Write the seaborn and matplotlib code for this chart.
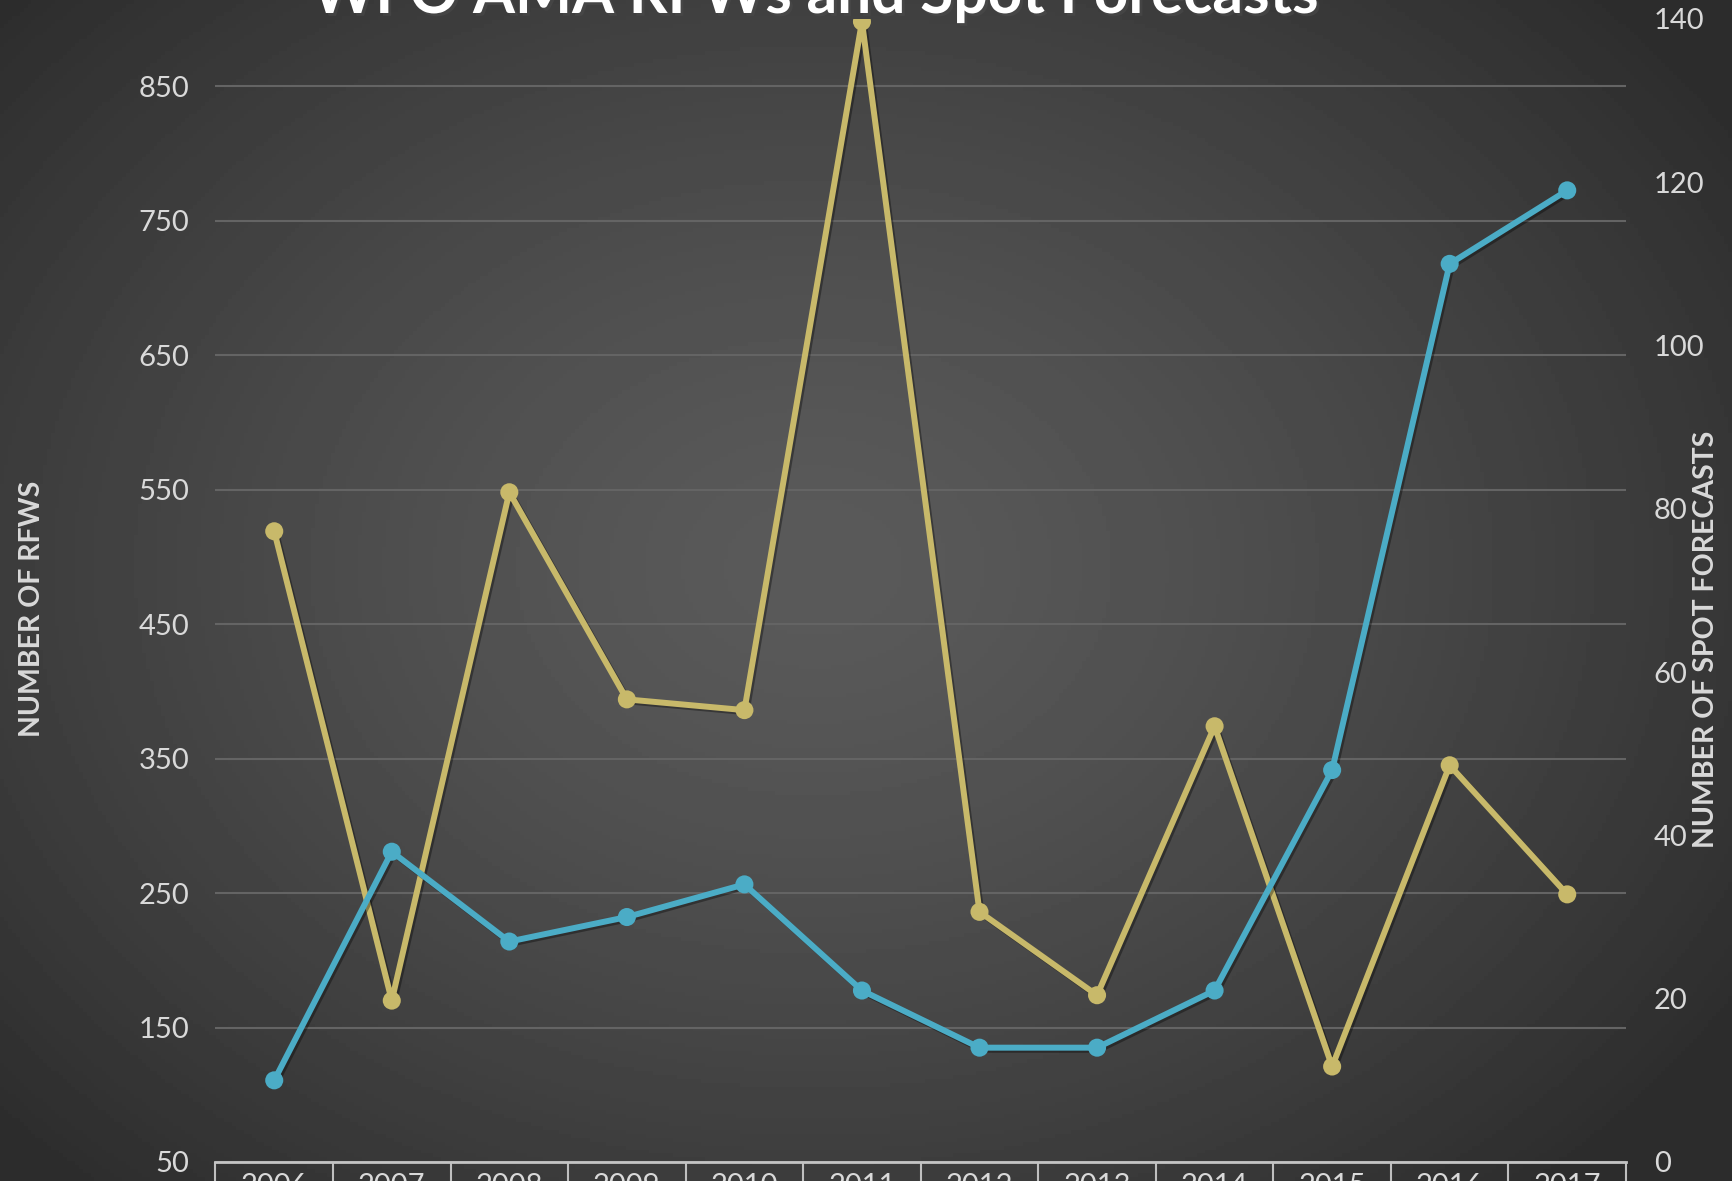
import numpy as np
import pandas as pd
import matplotlib
matplotlib.use("Agg")
import matplotlib.pyplot as plt
import matplotlib.patheffects as pe
import seaborn as sns

# datos
years = [2006, 2007, 2008, 2009, 2010, 2011, 2012, 2013, 2014, 2015, 2016, 2017]
rfws = [519, 170, 548, 394, 386, 898, 236, 174, 374, 121, 345, 249]
spots = [10, 38, 27, 30, 34, 21, 14, 14, 21, 48, 110, 119]
left_ticks = [50, 150, 250, 350, 450, 550, 650, 750, 850]
right_ticks = [0, 20, 40, 60, 80, 100, 120, 140]

df = pd.DataFrame({"Year": years, "RFWs": rfws, "Spots": spots})

sns.set_style("white")
plt.rcParams["font.family"] = ["Lato", "DejaVu Sans"]

yellow = "#c8b96a"
blue = "#4bacc6"
txt = "#d9d9d9"

fig = plt.figure(figsize=(17.32, 11.81), dpi=100)

# fondo con degradado radial
bg = fig.add_axes([0, 0, 1, 1])
bg.axis("off")
yy, xx = np.mgrid[0:1:300j, 0:1:440j]
r = np.sqrt(((xx - 0.47) / 0.64) ** 2 + ((yy - 0.52) / 0.72) ** 2)
shade = 90 - 46 * np.clip(r, 0, 1) ** 1.4
bg.imshow(shade, cmap="gray", vmin=0, vmax=255, extent=[0, 1, 0, 1],
          aspect="auto", origin="lower")
bg.set_xlim(0, 1)
bg.set_ylim(0, 1)

ax = fig.add_axes([0.1244, 0.0161, 0.8144, 0.9679])
ax.set_facecolor("none")
ax2 = ax.twinx()

shadow = [pe.SimpleLineShadow(offset=(1.5, -1.5), alpha=0.35), pe.Normal()]

sns.lineplot(data=df, x="Year", y="RFWs", ax=ax, color=yellow, marker="o",
             markersize=13, markeredgewidth=0, linewidth=4.3)
sns.lineplot(data=df, x="Year", y="Spots", ax=ax2, color=blue, marker="o",
             markersize=13, markeredgewidth=0, linewidth=4.3)
for ln in ax.lines + ax2.lines:
    ln.set_path_effects(shadow)

ax.set_ylim(50, 900)
ax2.set_ylim(0, 140)
ax.set_xlim(2005.5, 2017.5)

ax.set_yticks(left_ticks)
ax2.set_yticks(right_ticks)
ax.grid(axis="y", color="#646464", linewidth=1.5)
ax.grid(axis="x", visible=False)
ax2.grid(False)

# celdas del eje x
ax.set_xticks(np.arange(2005.5, 2018.0, 1.0))
ax.set_xticklabels([])
ax.set_xticks(years, minor=True)
ax.set_xticklabels([str(y) for y in years], minor=True)
ax.tick_params(axis="x", which="major", length=15, width=1.5, color="#bfbfbf",
               direction="out", bottom=True)
ax.tick_params(axis="x", which="minor", length=0, pad=8, labelsize=21,
               labelcolor=txt)
ax.tick_params(axis="y", length=0, pad=19, labelsize=21, labelcolor=txt)
ax2.tick_params(axis="y", length=0, pad=20, labelsize=21, labelcolor=txt)

for a in (ax, ax2):
    for s in ("top", "left", "right"):
        a.spines[s].set_visible(False)
ax2.spines["bottom"].set_visible(False)
ax.spines["bottom"].set_color("#c4c4c4")
ax.spines["bottom"].set_linewidth(2)

ax.set_xlabel("")
ax.set_ylabel("NUMBER OF RFWS", fontsize=20.5, color=txt, fontweight="bold")
ax.yaxis.set_label_coords(-0.121, 0.484)
ax2.set_ylabel("NUMBER OF SPOT FORECASTS", fontsize=20.5, color=txt,
               fontweight="bold")
ax2.yaxis.set_label_coords(1.0475, 0.457)

fig.text(0.4705, 1 - 13 / 1181, "WFO AMA RFWs and Spot Forecasts",
         ha="center", va="baseline", fontsize=43.5, fontweight="bold",
         color="white",
         path_effects=[pe.withSimplePatchShadow(offset=(2, -2), alpha=0.5)])

fig.savefig("out.png", dpi=100)
